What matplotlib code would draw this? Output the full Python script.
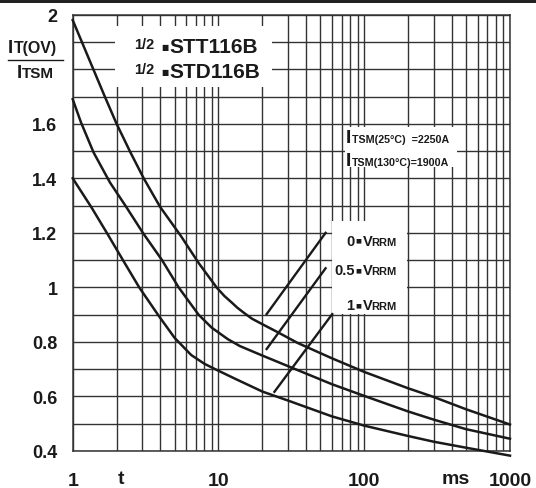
import matplotlib
matplotlib.use("Agg")
import matplotlib.pyplot as plt
from matplotlib.patches import Rectangle
from matplotlib.ticker import FixedLocator, MultipleLocator, LogLocator, NullFormatter

plt.rcParams['font.family'] = ['Liberation Sans', 'DejaVu Sans']
plt.rcParams['font.weight'] = 'bold'

# curves: t in ms, I_T(OV)/I_TSM
t_top = [1, 1.3, 1.66, 2, 2.49, 3.07, 3.98, 5.5, 7.3, 9.7, 11, 12.3, 13.5, 15.1, 17, 20, 25, 35, 60,
         100, 200, 300, 500, 1000]
v_top = [1.98, 1.835, 1.70, 1.60, 1.495, 1.40, 1.295, 1.19, 1.09, 1.00, 0.968, 0.945, 0.925, 0.905,
         0.885, 0.865, 0.838, 0.796, 0.74, 0.69, 0.63, 0.598, 0.553, 0.497]

t_mid = [1, 1.14, 1.39, 1.8, 2.33, 3.03, 4.1, 5.33, 7.3, 9, 11.6, 14, 20, 32, 60, 100, 200, 300, 500, 1000]
v_mid = [1.69, 1.605, 1.495, 1.385, 1.295, 1.20, 1.10, 1.00, 0.90, 0.852, 0.81, 0.785, 0.75, 0.705, 0.645,
         0.602, 0.545, 0.515, 0.48, 0.445]

t_bot = [1, 1.35, 1.75, 2.2, 2.86, 3.9, 5.0, 6.5, 8, 9.5, 13, 20, 30, 60, 100, 200, 300, 500, 1000]
v_bot = [1.40, 1.292, 1.192, 1.102, 1.00, 0.895, 0.815, 0.752, 0.72, 0.70, 0.665, 0.618, 0.585, 0.527,
         0.493, 0.455, 0.434, 0.412, 0.383]

# short slanted lines that point to the three curves
ind_t = [[21.4, 54.3], [21.4, 54.3], [24.2, 60.3]]
ind_v = [[0.902, 1.20], [0.774, 1.07], [0.617, 0.902]]

y_ticks = [0.4, 0.6, 0.8, 1.0, 1.2, 1.4, 1.6, 2.0]
y_labels = ['0.4', '0.6', '0.8', '1', '1.2', '1.4', '1.6', '2']
x_ticks = [1, 10, 100, 1000]
x_labels = ['1', '10', '100', '1000']
vrrm_labels = ['0', '0.5', '1']

W, H = 536, 489


def fx(x):
    return x / W


def fy(y):
    return 1 - y / H


fig = plt.figure(figsize=(W / 100, H / 100), dpi=100)
ax = fig.add_axes([fx(72.7), fy(452), (510 - 72.7) / W, (452 - 15.7) / H])

ink = '#1a1a1a'
gridc = '#333333'

ax.set_xscale('log')
ax.set_xlim(1, 1000)
ax.set_ylim(0.4, 2.0)

ax.xaxis.set_major_locator(FixedLocator(x_ticks))
ax.xaxis.set_minor_locator(LogLocator(base=10, subs=[2, 3, 4, 5, 6, 7, 8, 9]))
ax.xaxis.set_minor_formatter(NullFormatter())
ax.set_xticklabels(x_labels)
ax.yaxis.set_major_locator(FixedLocator(y_ticks))
ax.yaxis.set_minor_locator(MultipleLocator(0.1))
ax.set_yticklabels(y_labels)

ax.tick_params(which='both', length=0)
ax.tick_params(axis='x', pad=15, labelsize=14, labelcolor=ink)
ax.tick_params(axis='y', pad=11, labelsize=13, labelcolor=ink)
ax.grid(True, which='both', color=gridc, linewidth=1.0)
for s in ax.spines.values():
    s.set_color(gridc)
    s.set_linewidth(1.1)

# white boxes that hide the grid behind the notes
for (x0, y0, x1, y1) in [(115, 27, 272, 88), (345, 128, 457, 168), (332, 222, 407, 315)]:
    ax.add_patch(Rectangle(((x0 - 72.7) / 437.3, (452 - y1) / 436.3),
                           (x1 - x0) / 437.3, (y1 - y0) / 436.3,
                           transform=ax.transAxes, facecolor='white', edgecolor='none', zorder=2))

for t, v in [(t_top, v_top), (t_mid, v_mid), (t_bot, v_bot)]:
    ax.plot(t, v, color=ink, linewidth=1.8, zorder=3, clip_on=False, solid_joinstyle='round')
for t, v in zip(ind_t, ind_v):
    ax.plot(t, v, color=ink, linewidth=1.7, zorder=3)

# top border of the sheet
fig.patches.append(Rectangle((0, fy(3.5)), 1, 3.5 / H, transform=fig.transFigure,
                             facecolor='#222222', edgecolor='none'))

# y axis quantity
fig.text(fx(8), fy(53.3), 'I', fontsize=13.5, color=ink, va='baseline')
fig.text(fx(14), fy(53.3), 'T(OV)', fontsize=11.5, color=ink, va='baseline')
fig.add_artist(plt.Line2D([fx(8), fx(63)], [fy(61), fy(61)], color=ink, linewidth=1.0))
fig.text(fx(16.5), fy(78.3), 'I', fontsize=13.5, color=ink, va='baseline')
fig.text(fx(21.5), fy(78.3), 'TSM', fontsize=11, color=ink, va='baseline')

# x axis unit labels
fig.text(fx(121), fy(480), 't', fontsize=14, color=ink, ha='center', va='center')
fig.text(fx(456), fy(480), 'ms', fontsize=14, color=ink, ha='center', va='center')

# device names
for base, name in [(53.3, 'STT116B'), (78.3, 'STD116B')]:
    fig.text(fx(134), fy(base - 4), '1/2', fontsize=10.5, color=ink, va='baseline')
    fig.text(fx(164.5), fy(base - 5.5), '\u25a0', fontsize=5.5, color=ink, ha='center', va='center',
             family='DejaVu Sans')
    fig.text(fx(169), fy(base), name, fontsize=15, color=ink, va='baseline')

# surge current values
for base, txt in [(143.3, 'TSM(25\u00b0C)  =2250A'), (165.7, 'TSM(130\u00b0C)=1900A')]:
    fig.text(fx(346), fy(base), 'I', fontsize=14, color=ink, va='baseline')
    fig.text(fx(351.5), fy(base), txt, fontsize=7.7, color=ink, va='baseline')

# reverse voltage notes
for base, num in zip([245.7, 275, 310], vrrm_labels):
    fig.text(fx(354.5), fy(base), num, fontsize=10.5, color=ink, ha='right', va='baseline')
    fig.text(fx(358.7), fy(base - 4.5), '\u25a0', fontsize=4.5, color=ink, ha='center', va='center',
             family='DejaVu Sans')
    fig.text(fx(362.5), fy(base), 'V', fontsize=10.5, color=ink, va='baseline')
    fig.text(fx(371.5), fy(base), 'RRM', fontsize=8, color=ink, va='baseline')

fig.savefig('out.png', dpi=100)
